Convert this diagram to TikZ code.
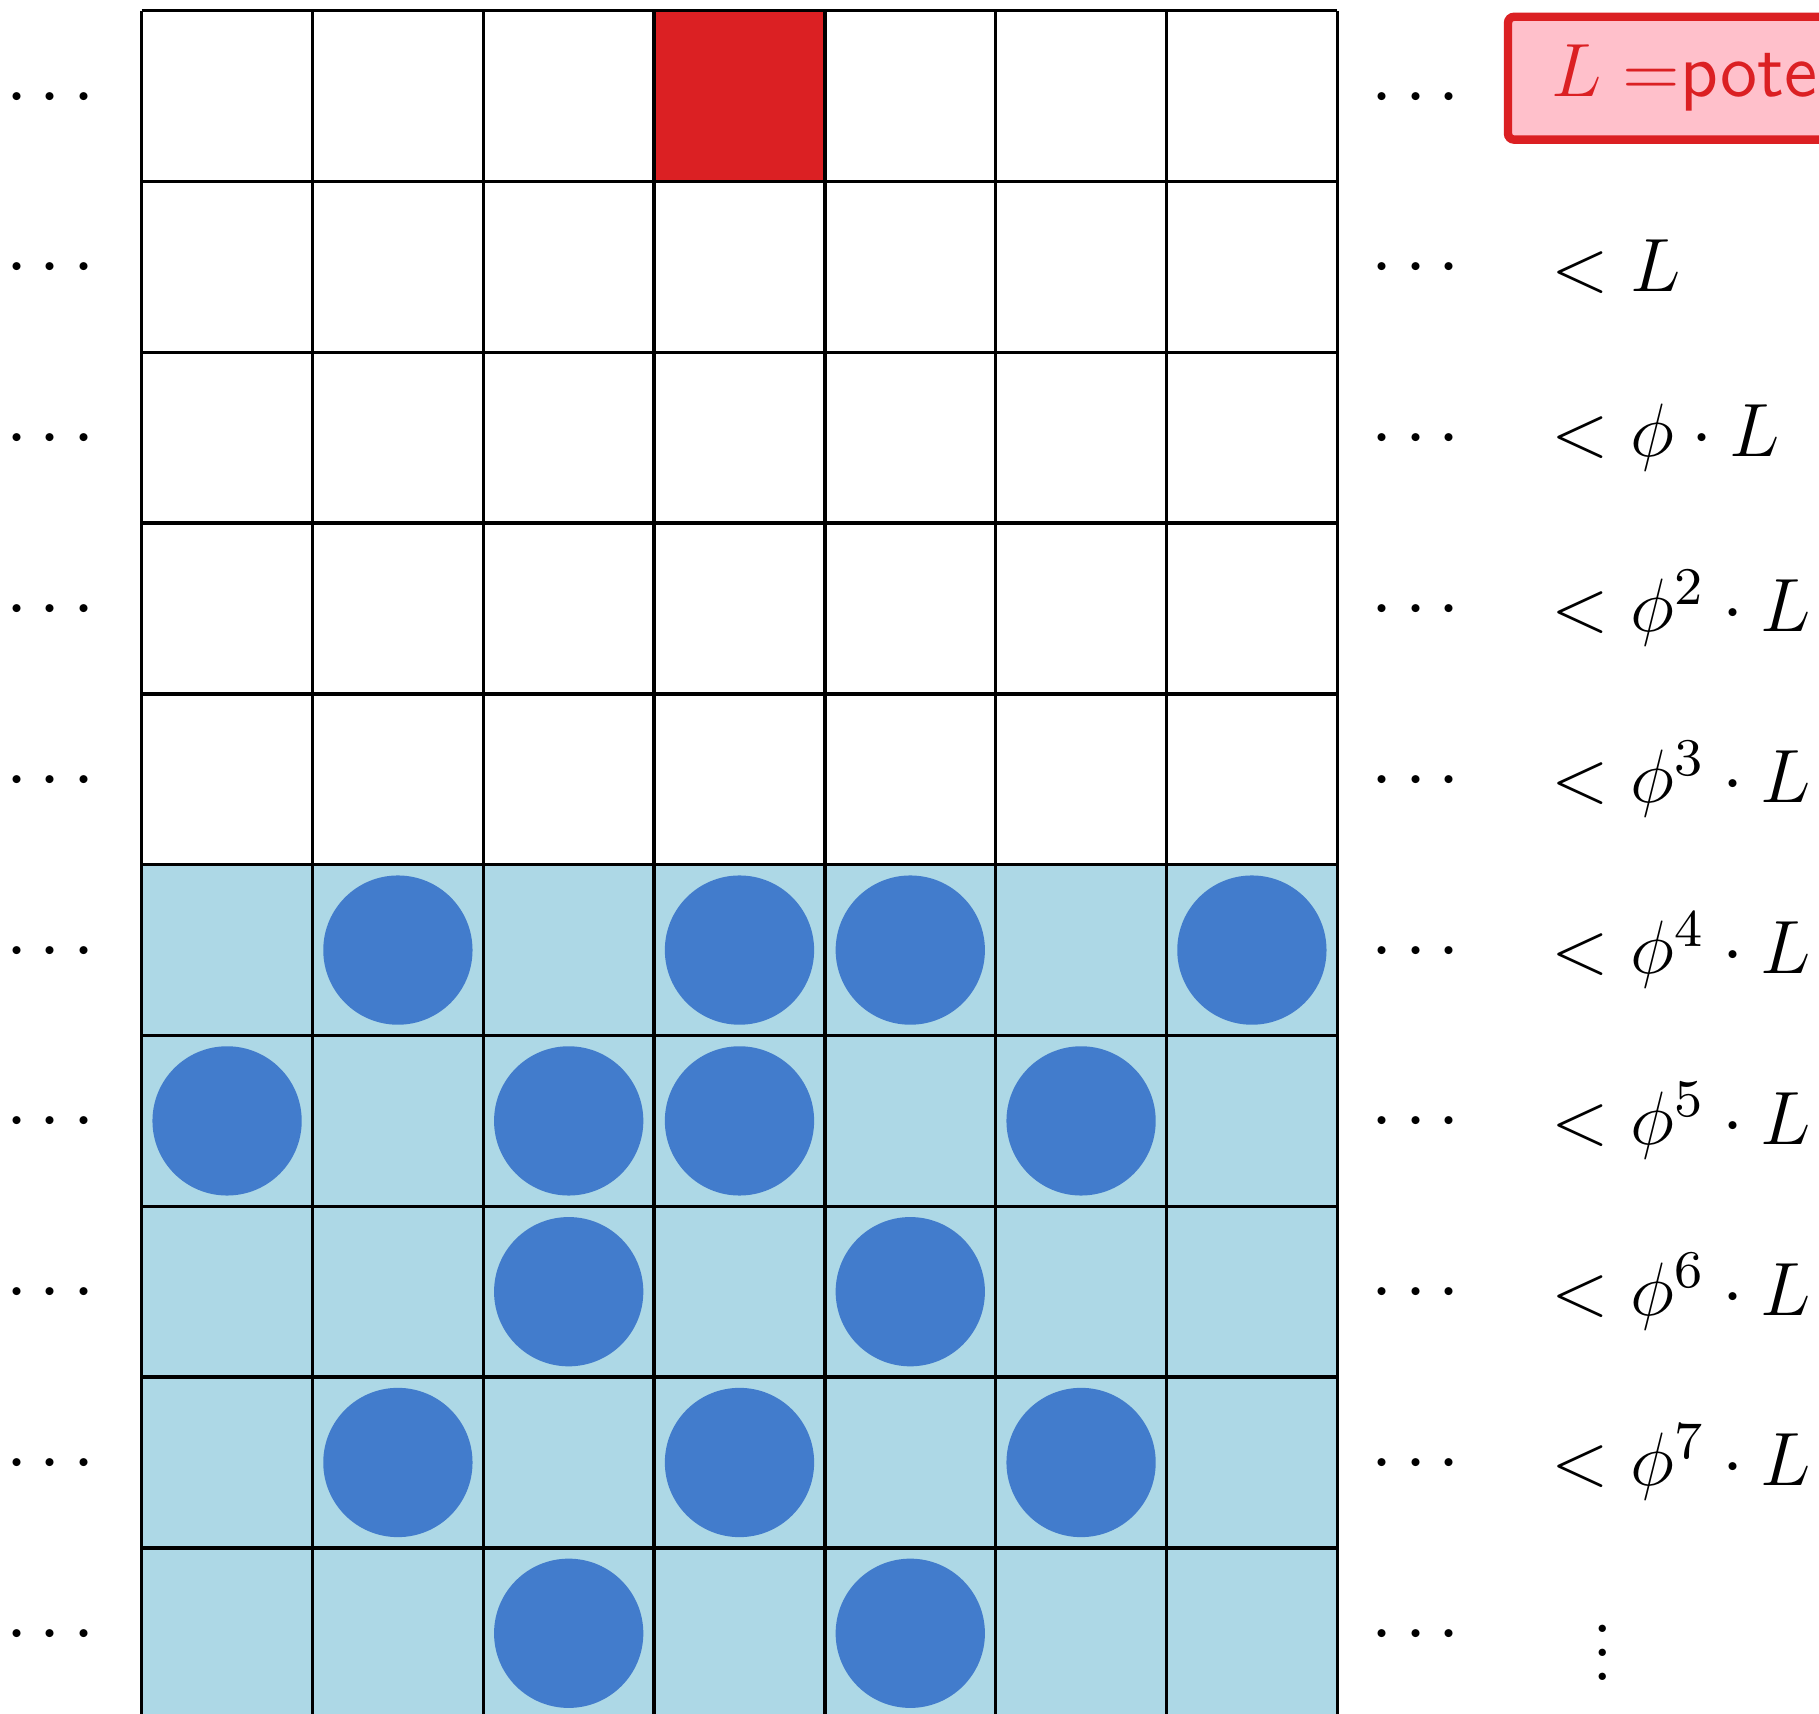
\RequirePackage{fix-cm}
\documentclass[tikz,border=0pt]{standalone}
\definecolor{cellblue}{RGB}{173,216,230}
\definecolor{dotblue}{RGB}{66,124,204}
\definecolor{hotred}{RGB}{219,32,35}
\definecolor{pinkfill}{RGB}{255,192,203}
\newcommand{\labfont}{\fontsize{12.6}{15}\selectfont}
\begin{document}
\begin{tikzpicture}[x=1cm,y=1cm,
  gridline/.style={line width=0.55pt, draw=black},
  bead/.style={fill=dotblue},
  rowlabel/.style={anchor=west, inner sep=0pt, font=\labfont},
  dotslabel/.style={anchor=base, inner sep=0pt, font=\labfont},
  keybox/.style={anchor=base west, draw=hotred, fill=pinkfill, text=hotred,
    line width=1.4pt, rounded corners=1pt, inner xsep=0.255cm, inner ysep=4.7pt,
    text width=3cm, align=left, font=\labfont}]
\useasboundingbox (-0.8296,0.0626) rectangle (9.8203,-9.9725);
\clip (-0.8296,0.0626) rectangle (9.8203,-9.9725);
% fills
\fill[cellblue] (0,-5) rectangle (7,-10);
\fill[hotred] (3,0) rectangle (4,-1);
% beads
\foreach \c/\r in {1/5,3/5,4/5,6/5, 0/6,2/6,3/6,5/6, 2/7,4/7, 1/8,3/8,5/8, 2/9,4/9}
  \fill[bead] (\c+0.5,-\r-0.5) circle (0.437);
% grid
\draw[gridline] (0,0) grid (7,-10);
% dots on both sides
\foreach \r in {0,...,9} {
  \node[dotslabel] (ld\r) at (-0.535,-\r-0.5-0.111) {$\cdots$};
  \node[dotslabel] (rd\r) at (7.459,-\r-0.5-0.111) {$\cdots$};
}
% right labels
\node[keybox] (key) at (7.975,-0.5035) {$L =$\textsf{pote}};
\node[rowlabel] (lab1) at (8.25,-1.5) {$<L$};
\node[rowlabel] (lab2) at (8.25,-2.5) {$<\phi\cdot L$};
\foreach \r/\k in {3/2,4/3,5/4,6/5,7/6,8/7}
  \node[rowlabel] (lab\r) at (8.25,-\r-0.5) {$<\phi^{\k}\cdot L$};
\node[dotslabel] (lab9) at (8.557,-9.775) {$\vdots$};
\end{tikzpicture}
\end{document}
